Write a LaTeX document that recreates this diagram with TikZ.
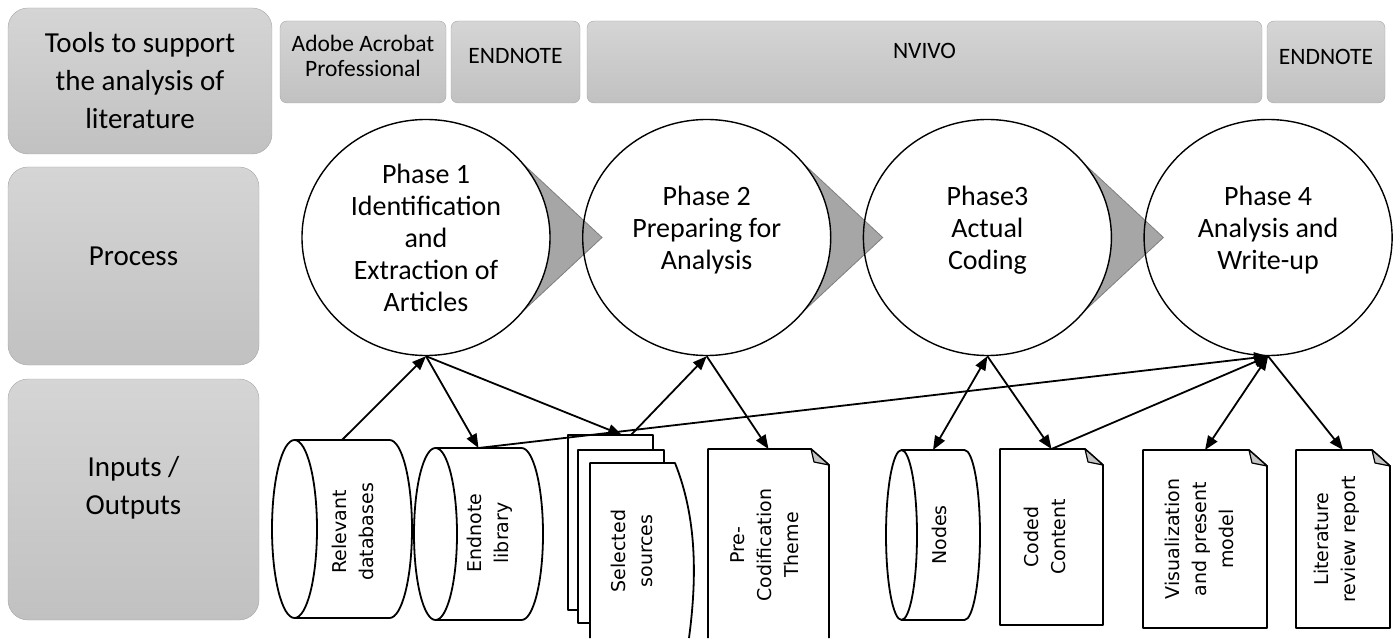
\documentclass[tikz,border=0pt]{standalone}
\usepackage{fontspec}
\setmainfont{Carlito}
\newfontfamily\iofont{DejaVu Sans}
\usetikzlibrary{shapes.geometric,positioning,arrows.meta,calc,backgrounds}

\definecolor{boxtop}{HTML}{D5D5D5}
\definecolor{boxbottom}{HTML}{C1C1C1}
\definecolor{boxline}{HTML}{A6A6A6}
\definecolor{chevfill}{HTML}{A6A6A6}
\definecolor{chevline}{HTML}{7F7F7F}
\definecolor{foldfill}{HTML}{C4C4C4}

\begin{document}
\begin{tikzpicture}[%
x=1pt, y=1pt,
>={Triangle[length=14pt,width=11pt]},
node distance=280.7pt,
on grid,
lane/.style={draw=boxline, rounded corners=20pt, top color=boxtop, bottom color=boxbottom, inner sep=0pt},
lanetext/.style={align=center, font=\fontsize{29}{38}\selectfont},
tool/.style={draw=boxline, rounded corners=7pt, top color=boxtop, bottom color=boxbottom, minimum height=82pt, inner sep=0pt},
tooltext/.style={align=center, font=\fontsize{23.5}{25}\selectfont},
phase/.style={ellipse, draw, line width=1.4pt, minimum width=248pt, minimum height=236pt, inner sep=0pt},
phasetext/.style={align=center, font=\fontsize{28}{32}\selectfont},
chevron/.style={fill=chevfill, draw=chevline, line width=0.8pt},
slot/.style={inner sep=0pt, outer sep=0pt},
io/.style={draw, line width=1.8pt, fill=white, line join=round},
iotext/.style={rotate=90, align=center, font=\iofont\fontsize{19}{27}\selectfont},
link/.style={line width=1.8pt}
]

\useasboundingbox (0,0) rectangle (1397,638);

% row titles
\node[lane, minimum width=264pt, minimum height=146pt] (tools) at (140,557) {};
\node[lanetext] (toolstxt) at (tools.center) {Tools to support\\the analysis of\\literature};
\node[lane, minimum width=251pt, minimum height=198pt] (proc) at (133.5,372) {};
\node[lanetext] (proctxt) at ([yshift=10pt]proc.center) {Process};
\node[lane, minimum width=251pt, minimum height=241pt] (inout) at (133.5,138.5) {};
\node[lanetext] (inouttxt) at ([yshift=12pt]inout.center) {Inputs /\\Outputs};

% tools row
\node[tool, minimum width=166pt] (acrobat) at (363,576) {};
\node[tooltext] (acrobattxt) at (363,582.5) {Adobe Acrobat\\Professional};
\node[tool, minimum width=129pt] (endnote) at (515.5,576) {};
\node[tooltext] (endnotetxt) at (515.5,582) {ENDNOTE};
\node[tool, minimum width=675pt] (nvivo) at (924.5,576) {};
\node[tooltext] (nvivotxt) at (924.5,587) {NVIVO};
\node[tool, minimum width=118pt] (endnoteb) at (1326,576) {};
\node[tooltext] (endnotebtxt) at (1326,581) {ENDNOTE};

% process row
\node[phase] (ph1) at (426,400.5) {};
\node[phase] (ph2) [right=of ph1] {};
\node[phase] (ph3) [right=of ph2] {};
\node[phase] (ph4) [right=of ph3] {};

\begin{scope}[on background layer]
\foreach \p in {ph1,ph2,ph3} {
  \fill[chevfill] ($(\p.center)+(38.7:124pt and 118pt)$) -- ($(\p.center)+(176,0)$)
    -- ($(\p.center)+(-38.7:124pt and 118pt)$)
    arc[start angle=-38.7, end angle=38.7, x radius=124pt, y radius=118pt] -- cycle;
  \draw[chevline, line width=0.8pt] ($(\p.center)+(38.7:124pt and 118pt)$)
    -- ($(\p.center)+(176,0)$) -- ($(\p.center)+(-38.7:124pt and 118pt)$);
}
\end{scope}

\node[phasetext] (ph1txt) at (ph1.center) {Phase 1\\Identification\\and\\Extraction of\\Articles};
\node[phasetext] (ph2txt) at ([yshift=7pt]ph2.center) {Phase 2\\Preparing for\\Analysis};
\node[phasetext] (ph3txt) at ([yshift=7pt]ph3.center) {Phase3\\Actual\\Coding};
\node[phasetext] (ph4txt) at ([yshift=7pt]ph4.center) {Phase 4\\Analysis and\\Write-up};

% inputs / outputs row
\node[slot, minimum width=140pt, minimum height=178pt] (reldb) at (342,109) {};
\node[slot, minimum width=129pt, minimum height=172pt] (endlib) at (478.5,104) {};
\node[slot, minimum width=108pt, minimum height=203pt] (selsrc) at (622,101.5) {};
\node[slot, minimum width=121pt, minimum height=189pt] (precod) at (768.5,94.5) {};
\node[slot, minimum width=94pt, minimum height=170pt] (nodes) at (933,103) {};
\node[slot, minimum width=103pt, minimum height=176pt] (coded) at (1051.5,101) {};
\node[slot, minimum width=124pt, minimum height=178pt] (visual) at (1205,99) {};
\node[slot, minimum width=94pt, minimum height=178pt] (litrev) at (1343,99) {};

\foreach \n/\rx/\ry in {reldb/22.5/89, endlib/21.5/86, nodes/15.5/85} {
  \draw[io] ([xshift=\rx pt]\n.north west) -- ([xshift=-\rx pt]\n.north east)
    arc[start angle=90, end angle=-90, x radius=\rx pt, y radius=\ry pt]
    -- ([xshift=\rx pt]\n.south west)
    arc[start angle=270, end angle=90, x radius=\rx pt, y radius=\ry pt] -- cycle;
  \draw[io, fill=none] ([xshift=\rx pt]\n.north west)
    arc[start angle=90, end angle=-90, x radius=\rx pt, y radius=\ry pt];
}

\begin{scope}[shift={(selsrc.south west)}]
  \draw[io] (0,28) rectangle (85,203);
  \draw[io] (10,15) rectangle (96,188);
  \draw[io] (22,0) -- (22,175) -- (107,175) .. controls (129,120) and (129,60) .. (121,0);
\end{scope}

\draw[io] (precod.south west) -- (precod.north west) -- ([xshift=-18pt]precod.north east)
  -- ([yshift=-16pt]precod.north east) -- (precod.south east);
\foreach \n in {coded,visual,litrev} {
  \draw[io] (\n.south west) -- (\n.north west) -- ([xshift=-18pt]\n.north east)
    -- ([yshift=-16pt]\n.north east) -- (\n.south east) -- cycle;
}
\foreach \n in {precod,coded,visual,litrev} {
  \filldraw[fill=foldfill, line width=1.2pt, line join=round] ([xshift=-18pt]\n.north east)
    -- ([xshift=-15pt,yshift=-13pt]\n.north east) -- ([yshift=-16pt]\n.north east) -- cycle;
}

\node[iotext] (reldbtxt) at (353,106) {Relevant\\databases};
\node[iotext] (endlibtxt) at (490,105) {Endnote\\library};
\node[iotext] (selsrctxt) at (632,87) {Selected\\sources};
\node[iotext] (precodtxt) at (765,93) {Pre-\\Codification\\Theme};
\node[iotext] (nodestxt) at (939,103) {Nodes};
\node[iotext] (codedtxt) at (1045,101) {Coded\\Content};
\node[iotext] (visualtxt) at (1199,99) {Visualization\\and present\\model};
\node[iotext] (litrevtxt) at (1337,99) {Literature\\review report};

% connectors
\draw[link,->] (reldb.north) -- (ph1.south);
\draw[link,->] (ph1.south) -- (endlib.north);
\draw[link,->] (ph1.south) -- (selsrc.north);
\draw[link,->] ([xshift=9pt]selsrc.north) -- (ph2.south);
\draw[link,->] (ph2.south) -- (precod.north);
\draw[link,->] (endlib.north) -- (ph4.south);
\draw[link,<->] (ph3.south) -- (nodes.north);
\draw[link,->] (ph3.south) -- (coded.north);
\draw[link,->] (coded.north) -- (ph4.south);
\draw[link,<->] (ph4.south) -- (visual.north);
\draw[link,->] (ph4.south) -- (litrev.north);

\end{tikzpicture}
\end{document}
